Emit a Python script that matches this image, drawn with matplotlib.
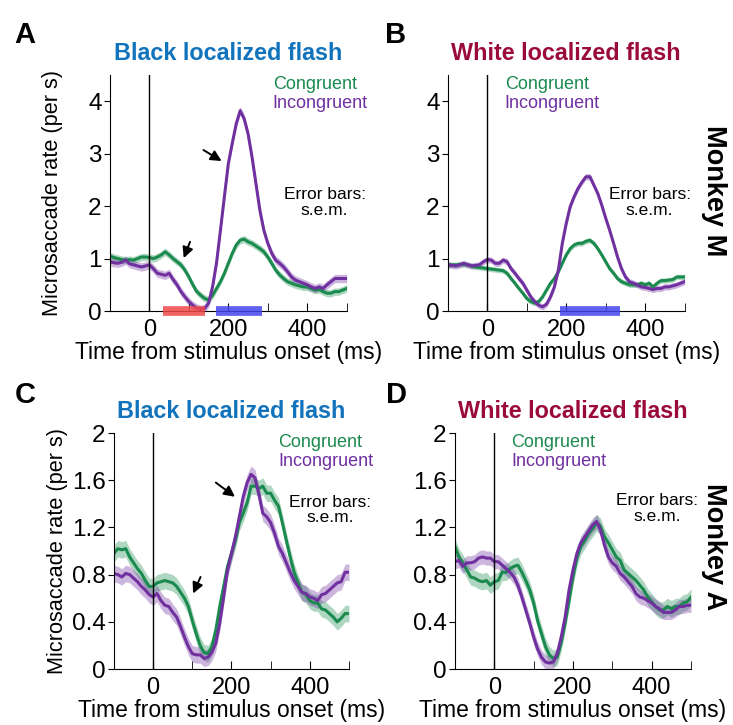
import numpy as np
import matplotlib
matplotlib.use('Agg')
import matplotlib.pyplot as plt

plt.rcParams['font.family'] = ['Liberation Sans', 'DejaVu Sans']

GREEN = '#1b8a4e'
PURPLE = '#7030a0'
BLUE_TITLE = '#1273bd'
RED_TITLE = '#9b0a3c'

# time axis (ms), 10 ms steps
t = np.arange(-100, 501, 10)

# Panel A: Monkey M, black flash
a_cong = [1.05, 1.02, 1.0, 0.98, 0.97, 0.98, 0.97, 1.0, 1.03, 1.03, 1.02, 1.0, 1.03, 1.07, 1.13,
          1.07, 1.0, 0.94, 0.88, 0.78, 0.65, 0.5, 0.37, 0.3, 0.24, 0.21, 0.3, 0.43, 0.56, 0.72,
          0.91, 1.1, 1.26, 1.35, 1.37, 1.32, 1.29, 1.24, 1.19, 1.13, 1.03, 0.91, 0.78, 0.69, 0.62,
          0.56, 0.53, 0.5, 0.48, 0.46, 0.46, 0.43, 0.4, 0.41, 0.37, 0.34, 0.34, 0.37, 0.37, 0.4, 0.43]
a_incong = [0.94, 0.92, 0.91, 0.93, 0.97, 0.9, 0.88, 0.86, 0.84, 0.86, 0.88, 0.81, 0.72, 0.7, 0.68,
            0.72, 0.6, 0.5, 0.37, 0.27, 0.18, 0.11, 0.06, 0.03, 0.05, 0.15, 0.46, 0.91, 1.54, 2.18,
            2.81, 3.2, 3.57, 3.82, 3.67, 3.38, 2.94, 2.43, 1.92, 1.54, 1.29, 1.1, 0.97, 0.91, 0.84,
            0.75, 0.65, 0.59, 0.56, 0.53, 0.5, 0.46, 0.43, 0.46, 0.43, 0.5, 0.56, 0.62, 0.62, 0.62, 0.62]

# Panel B: Monkey M, white flash
b_cong = [0.88, 0.88, 0.88, 0.89, 0.89, 0.88, 0.86, 0.84, 0.83, 0.82, 0.81, 0.8, 0.79, 0.78, 0.77,
          0.72, 0.62, 0.53, 0.43, 0.34, 0.24, 0.18, 0.15, 0.18, 0.27, 0.4, 0.53, 0.62, 0.75, 0.91,
          1.07, 1.19, 1.26, 1.29, 1.29, 1.33, 1.35, 1.29, 1.19, 1.07, 0.94, 0.81, 0.72, 0.62, 0.56,
          0.53, 0.5, 0.5, 0.5, 0.53, 0.5, 0.53, 0.46, 0.53, 0.58, 0.58, 0.59, 0.6, 0.65, 0.65, 0.65]
b_incong = [0.88, 0.87, 0.86, 0.88, 0.91, 0.88, 0.86, 0.87, 0.88, 0.94, 0.98, 0.97, 0.91, 0.91, 0.97,
            0.94, 0.81, 0.72, 0.62, 0.53, 0.4, 0.27, 0.18, 0.11, 0.08, 0.13, 0.27, 0.46, 0.78, 1.29,
            1.67, 1.99, 2.18, 2.34, 2.46, 2.56, 2.56, 2.4, 2.24, 2.02, 1.77, 1.54, 1.29, 1.03, 0.81,
            0.65, 0.56, 0.53, 0.5, 0.46, 0.45, 0.43, 0.41, 0.43, 0.43, 0.46, 0.46, 0.48, 0.5, 0.53, 0.56]

# Panel C: Monkey A, black flash
c_cong = [0.98, 1.02, 1.01, 1.02, 0.95, 0.9, 0.85, 0.81, 0.75, 0.7, 0.7, 0.73, 0.74, 0.75, 0.74,
          0.73, 0.7, 0.65, 0.6, 0.53, 0.41, 0.3, 0.2, 0.14, 0.13, 0.19, 0.33, 0.53, 0.7, 0.87,
          0.98, 1.09, 1.24, 1.32, 1.41, 1.55, 1.55, 1.53, 1.55, 1.49, 1.49, 1.43, 1.38, 1.24, 1.09,
          0.95, 0.82, 0.73, 0.65, 0.63, 0.58, 0.56, 0.56, 0.51, 0.5, 0.47, 0.44, 0.4, 0.43, 0.47, 0.47]
c_incong = [0.81, 0.8, 0.78, 0.81, 0.8, 0.77, 0.74, 0.7, 0.67, 0.63, 0.61, 0.64, 0.58, 0.54, 0.53,
            0.48, 0.44, 0.36, 0.27, 0.19, 0.13, 0.12, 0.12, 0.09, 0.1, 0.14, 0.22, 0.39, 0.61, 0.84,
            0.98, 1.12, 1.29, 1.46, 1.58, 1.65, 1.62, 1.48, 1.32, 1.29, 1.24, 1.15, 1.04, 0.98, 0.9,
            0.82, 0.75, 0.7, 0.65, 0.64, 0.61, 0.6, 0.58, 0.63, 0.64, 0.67, 0.7, 0.73, 0.74, 0.82, 0.82]

# Panel D: Monkey A, white flash
d_cong = [1.04, 0.95, 0.9, 0.84, 0.78, 0.77, 0.75, 0.74, 0.75, 0.71, 0.74, 0.75, 0.82, 0.82, 0.85,
          0.87, 0.88, 0.82, 0.75, 0.67, 0.56, 0.41, 0.3, 0.19, 0.12, 0.09, 0.1, 0.22, 0.39, 0.58,
          0.78, 0.94, 1.04, 1.09, 1.15, 1.19, 1.24, 1.21, 1.12, 1.07, 1.01, 0.95, 0.92, 0.84, 0.81,
          0.78, 0.75, 0.71, 0.67, 0.61, 0.57, 0.53, 0.5, 0.5, 0.53, 0.51, 0.53, 0.53, 0.56, 0.57, 0.61]
d_incong = [0.91, 0.92, 0.87, 0.9, 0.9, 0.91, 0.94, 0.95, 0.94, 0.94, 0.91, 0.91, 0.88, 0.85, 0.82,
            0.78, 0.71, 0.61, 0.5, 0.39, 0.27, 0.17, 0.1, 0.06, 0.05, 0.06, 0.13, 0.27, 0.44, 0.67,
            0.84, 0.98, 1.07, 1.12, 1.17, 1.22, 1.25, 1.18, 1.05, 0.95, 0.9, 0.87, 0.81, 0.78, 0.74,
            0.7, 0.64, 0.61, 0.6, 0.58, 0.56, 0.53, 0.51, 0.48, 0.48, 0.48, 0.5, 0.53, 0.53, 0.54, 0.54]

# s.e.m. half-widths per panel (congruent, incongruent)
sem = {'A': (0.07, 0.08), 'B': (0.05, 0.06), 'C': (0.07, 0.07), 'D': (0.07, 0.06)}

# significance bars (ms)
sig_a = [(35, 140, '#f04848'), (170, 285, '#4545ee')]
sig_b = [(185, 335, '#4545ee')]


def draw_panel(ax, letter, cong, incong, title, title_col, ymax, yticks, ytl,
               leg_x, err_x, err_y, sig=(), arrows=()):
    s1, s2 = sem[letter]
    cong = np.array(cong)
    incong = np.array(incong)
    ax.fill_between(t, cong - s1, cong + s1, color=GREEN, alpha=0.35, lw=0)
    ax.fill_between(t, incong - s2, incong + s2, color=PURPLE, alpha=0.35, lw=0)
    ax.plot(t, cong, color=GREEN, lw=2.2)
    ax.plot(t, incong, color=PURPLE, lw=2.2)
    ax.axvline(0, color='black', lw=1)
    for x0, x1, c in sig:
        ax.plot([x0, x1], [0, 0], color=c, lw=7, alpha=0.85, solid_capstyle='butt',
                clip_on=False, zorder=5)
    for (tx, ty), (hx, hy) in arrows:
        ax.annotate('', xy=(hx, hy), xytext=(tx, ty),
                    arrowprops=dict(arrowstyle='-|>', color='black', lw=1.4,
                                    mutation_scale=16, shrinkA=0, shrinkB=0))
    ax.set_xlim(-100, 500)
    ax.set_ylim(0, ymax)
    ax.set_xticks([0, 200, 400])
    ax.set_xticks([100, 300, 500], minor=True)
    ax.tick_params(axis='x', which='both', direction='in', length=6, labelsize=17, pad=6)
    ax.tick_params(axis='y', direction='out', length=4, labelsize=17.5, pad=2)
    ax.set_yticks(yticks)
    ax.set_yticklabels(ytl)
    for sp in ('top', 'right'):
        ax.spines[sp].set_visible(False)
    ax.set_xlabel('Time from stimulus onset (ms)', fontsize=16.5, labelpad=0)
    ax.set_title(title, color=title_col, fontsize=16.8, fontweight='bold', pad=11)
    ax.text(leg_x, 0.958, 'Congruent', color=GREEN, fontsize=13, transform=ax.transAxes,
            va='center', clip_on=False)
    ax.text(leg_x, 0.878, 'Incongruent', color=PURPLE, fontsize=13, transform=ax.transAxes,
            va='center', clip_on=False)
    ax.text(err_x, err_y, 'Error bars:\ns.e.m.', fontsize=12.5, ha='center', va='center',
            transform=ax.transAxes, linespacing=1.05)


fig = plt.figure(figsize=(7.33, 7.25), dpi=100)
axA = fig.add_axes([0.150, 0.571, 0.323, 0.3255])
axB = fig.add_axes([0.611, 0.571, 0.323, 0.3255])
axC = fig.add_axes([0.1555, 0.0772, 0.3206, 0.3255])
axD = fig.add_axes([0.6207, 0.0772, 0.322, 0.3255])

m_ticks = [0, 1, 2, 3, 4]
a_ticks = [0, 0.4, 0.8, 1.2, 1.6, 2]

draw_panel(axA, 'A', a_cong, a_incong, 'Black localized flash', BLUE_TITLE, 4.5,
           m_ticks, ['0', '1', '2', '3', '4'], 0.688, 0.907, 0.46, sig=sig_a,
           arrows=[((137, 3.07), (183, 2.86)), ((103, 1.32), (87, 1.01))])
draw_panel(axB, 'B', b_cong, b_incong, 'White localized flash', RED_TITLE, 4.5,
           m_ticks, ['0', '1', '2', '3', '4'], 0.24, 0.852, 0.46, sig=sig_b)
draw_panel(axC, 'C', c_cong, c_incong, 'Black localized flash', BLUE_TITLE, 2,
           a_ticks, ['0', '0.4', '0.8', '1.2', '1.6', '2'], 0.70, 0.92, 0.674,
           arrows=[((160, 1.58), (209, 1.46)), ((121, 0.78), (102, 0.64))])
draw_panel(axD, 'D', d_cong, d_incong, 'White localized flash', RED_TITLE, 2,
           a_ticks, ['0', '0.4', '0.8', '1.2', '1.6', '2'], 0.237, 0.856, 0.68)

axA.set_ylabel('Microsaccade rate (per s)', fontsize=15.7, labelpad=18)
axC.set_ylabel('Microsaccade rate (per s)', fontsize=15.7, labelpad=3)

for lab, x, y in (('A', 25, 35), ('B', 396, 35), ('C', 25, 395), ('D', 396, 395)):
    fig.text(x / 733, 1 - y / 725, lab, fontsize=21, fontweight='bold', ha='center', va='center')

fig.text(714 / 733, 1 - 191 / 725, 'Monkey M', rotation=270, fontsize=19.5, fontweight='bold',
         ha='center', va='center')
fig.text(714 / 733, 1 - 547 / 725, 'Monkey A', rotation=270, fontsize=19.5, fontweight='bold',
         ha='center', va='center')

fig.savefig('out.png', dpi=100)
plt.close(fig)
